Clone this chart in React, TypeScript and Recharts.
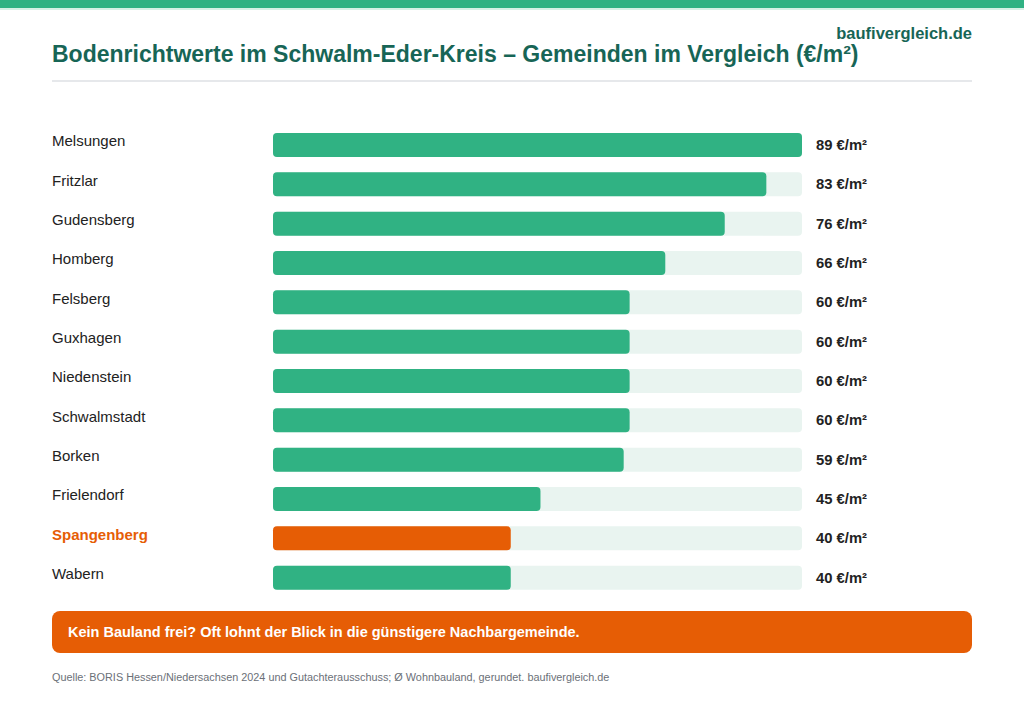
import React from 'react';
import { BarChart, Bar, XAxis, YAxis, Cell, LabelList } from 'recharts';

// Gemeinden, sortiert nach Bodenrichtwert (€/m²)
const gemeinden = [
  'Melsungen',
  'Fritzlar',
  'Gudensberg',
  'Homberg',
  'Felsberg',
  'Guxhagen',
  'Niedenstein',
  'Schwalmstadt',
  'Borken',
  'Frielendorf',
  'Spangenberg',
  'Wabern',
];
const werte = [89, 83, 76, 66, 60, 60, 60, 60, 59, 45, 40, 40];
const hervorgehoben = 'Spangenberg';

const GREEN = '#30b283';
const ORANGE = '#e65d05';
const TRACK = '#e9f4f0';
const DARK_GREEN = '#176556';
const FONT = '"Liberation Sans", Arial, Helvetica, sans-serif';

const data = gemeinden.map((name, i) => ({ name, value: werte[i] }));

const CategoryTick = (props: any) => {
  const { y, payload } = props;
  const isHi = payload.value === hervorgehoben;
  return (
    <text
      x={52}
      y={y - 4}
      dominantBaseline="central"
      textAnchor="start"
      fontFamily={FONT}
      fontSize={15}
      fontWeight={isHi ? 700 : 400}
      fill={isHi ? ORANGE : '#222'}
    >
      {payload.value}
    </text>
  );
};

const ValueLabel = (props: any) => {
  const { y, height, value } = props;
  return (
    <text
      x={816}
      y={y + height / 2}
      dominantBaseline="central"
      fontFamily={FONT}
      fontSize={14.8}
      fontWeight={700}
      fill="#222"
    >
      {value} €/m²
    </text>
  );
};

export default function App() {
  return (
    <div
      style={{
        position: 'absolute',
        left: 0,
        top: 0,
        width: 1024,
        height: 701,
        background: '#fff',
        fontFamily: FONT,
        overflow: 'hidden',
      }}
    >
      <div style={{ position: 'absolute', left: 0, top: 0, width: 1024, height: 8, background: GREEN }} />
      <div style={{ position: 'absolute', left: 0, top: 8, width: 1024, height: 2, background: '#d6f1e6' }} />

      <div
        style={{
          position: 'absolute',
          right: 52,
          top: 23,
          fontSize: 16.5,
          fontWeight: 700,
          color: DARK_GREEN,
          lineHeight: '20px',
        }}
      >
        baufivergleich.de
      </div>
      <div
        style={{
          position: 'absolute',
          left: 52,
          top: 40,
          fontSize: 23,
          fontWeight: 700,
          color: DARK_GREEN,
          lineHeight: '28px',
          whiteSpace: 'nowrap',
        }}
      >
        Bodenrichtwerte im Schwalm-Eder-Kreis – Gemeinden im Vergleich (€/m²)
      </div>
      <div style={{ position: 'absolute', left: 52, top: 80, width: 920, height: 2, background: '#e6e8eb' }} />

      <div style={{ position: 'absolute', left: 0, top: 0 }}>
        <BarChart
          width={1024}
          height={701}
          data={data}
          layout="vertical"
          margin={{ top: 125, right: 222, bottom: 104, left: 0 }}
        >
          <XAxis type="number" domain={[0, 89]} hide />
          <YAxis
            type="category"
            dataKey="name"
            width={273}
            axisLine={false}
            tickLine={false}
            interval={0}
            tick={<CategoryTick />}
          />
          <Bar
            dataKey="value"
            barSize={24}
            radius={4}
            background={{ fill: TRACK, radius: 4 } as any}
            isAnimationActive={false}
          >
            {data.map((d) => (
              <Cell key={d.name} fill={d.name === hervorgehoben ? ORANGE : GREEN} />
            ))}
            <LabelList dataKey="value" content={<ValueLabel />} />
          </Bar>
        </BarChart>
      </div>

      <div
        style={{
          position: 'absolute',
          left: 52,
          top: 611,
          width: 920,
          height: 42,
          background: ORANGE,
          borderRadius: 8,
          boxSizing: 'border-box',
          paddingLeft: 16,
          display: 'flex',
          alignItems: 'center',
          color: '#fff',
          fontWeight: 700,
          fontSize: 14.5,
        }}
      >
        Kein Bauland frei? Oft lohnt der Blick in die günstigere Nachbargemeinde.
      </div>
      <div
        style={{
          position: 'absolute',
          left: 52,
          top: 671,
          fontSize: 10.85,
          color: '#6b7078',
          whiteSpace: 'nowrap',
        }}
      >
        Quelle: BORIS Hessen/Niedersachsen 2024 und Gutachterausschuss; Ø Wohnbauland, gerundet. baufivergleich.de
      </div>
    </div>
  );
}
